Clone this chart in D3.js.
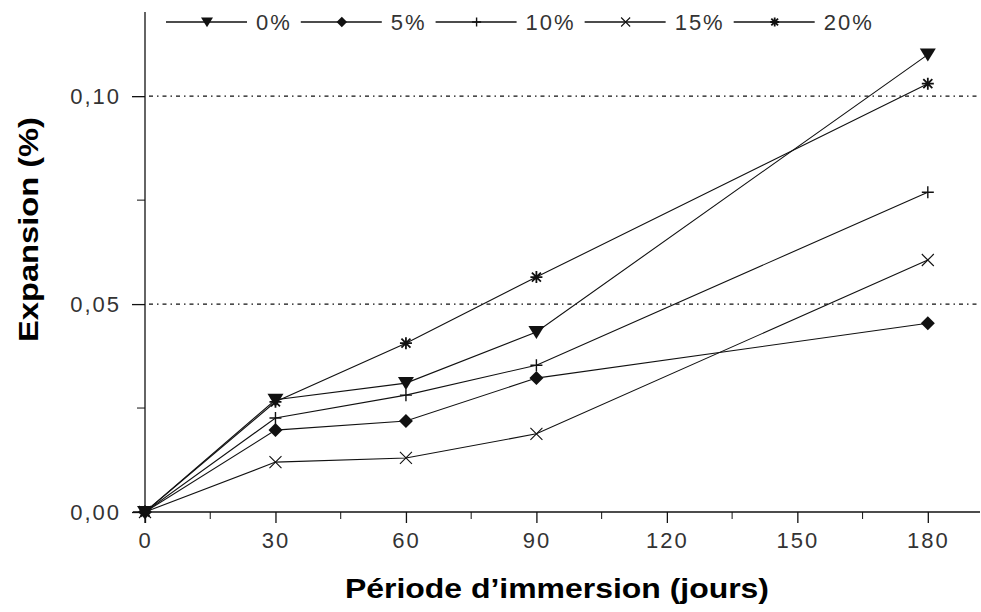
<!DOCTYPE html>
<html>
<head>
<meta charset="utf-8">
<script src="https://cdn.jsdelivr.net/npm/d3@7"></script>
<style>
  html, body { margin: 0; padding: 0; background: #fff; }
  svg { display: block; }
</style>
</head>
<body>
<script>
/**
 * DATA
 */
const days = [0, 30, 60, 90, 180];
const seriesNames = ["0%", "5%", "10%", "15%", "20%"];
const s0 = [0, 0.027, 0.031, 0.0433, 0.110];
const s5 = [0, 0.0197, 0.0219, 0.0322, 0.0454];
const s10 = [0, 0.0226, 0.0281, 0.0353, 0.0769];
const s15 = [0, 0.012, 0.013, 0.0188, 0.0606];
const s20 = [0, 0.0265, 0.0406, 0.0565, 0.103];
const xTicks = [0, 30, 60, 90, 120, 150, 180];
const yTicks = [0, 0.05, 0.1];
const gridValues = [0.05, 0.1];

/**
 * CONSTANTS
 */
const WIDTH = 981;
const HEIGHT = 612;
const INK = "#111";
const TICK_FONT = "'Liberation Sans', Arial, sans-serif";

const series = [s0, s5, s10, s15, s20].map((values, i) => ({
  name: seriesNames[i],
  marker: ["triangle", "diamond", "plus", "cross", "star"][i],
  points: days.map((d, j) => ({ day: d, value: values[j] })),
}));

const svg = d3
  .select("body")
  .append("svg")
  .attr("width", WIDTH)
  .attr("height", HEIGHT);

const x = d3.scaleLinear().domain([0, 192]).range([145, 980]);
const y = d3.scaleLinear().domain([0, 0.12]).range([512, 13]);

// marker shapes drawn around (0,0)
const drawMarker = (sel, type, k) => {
  if (type === "triangle") {
    sel.append("path")
      .attr("d", `M${-8 * k},${-6 * k}L${8 * k},${-6 * k}L0,${7 * k}Z`)
      .attr("fill", INK);
  } else if (type === "diamond") {
    sel.append("path")
      .attr("d", `M0,${-7 * k}L${7 * k},0L0,${7 * k}L${-7 * k},0Z`)
      .attr("fill", INK);
  } else if (type === "plus") {
    sel.append("path")
      .attr("d", `M${-6 * k},0H${6 * k}M0,${-6 * k}V${6 * k}`)
      .attr("stroke", INK).attr("stroke-width", 1.4);
  } else if (type === "cross") {
    sel.append("path")
      .attr("d", `M${-6 * k},${-6 * k}L${6 * k},${6 * k}M${-6 * k},${6 * k}L${6 * k},${-6 * k}`)
      .attr("stroke", INK).attr("stroke-width", 1.1);
  } else {
    const r = 6 * k, q = 4.5 * k;
    sel.append("path")
      .attr("d", `M${-r},0H${r}M0,${-r}V${r}M${-q},${-q}L${q},${q}M${-q},${q}L${q},${-q}`)
      .attr("stroke", INK).attr("stroke-width", 1.8);
  }
};

/**
 * GRID + AXES
 */
svg.append("g")
  .selectAll("line")
  .data(gridValues)
  .join("line")
  .attr("x1", x(0) + 4)
  .attr("x2", x.range()[1])
  .attr("y1", (d) => y(d))
  .attr("y2", (d) => y(d))
  .attr("stroke", INK)
  .attr("stroke-width", 1.3)
  .attr("stroke-dasharray", "4,4,1.5,4");

const fmt = (d) => d3.format(".2f")(d).replace(".", ",");

const yAxis = svg.append("g")
  .attr("transform", `translate(${x(0)},0)`)
  .call(d3.axisLeft(y).tickValues(yTicks).tickSize(13).tickPadding(11).tickFormat(fmt));
yAxis.append("g")
  .selectAll("line")
  .data([0.025, 0.075])
  .join("line")
  .attr("x1", -8).attr("x2", 0)
  .attr("y1", (d) => y(d)).attr("y2", (d) => y(d))
  .attr("stroke", INK);

const xAxis = svg.append("g")
  .attr("transform", `translate(0,${y(0)})`)
  .call(d3.axisBottom(x).tickValues(xTicks).tickSize(11).tickPadding(9).tickFormat(d3.format("d")));
xAxis.append("g")
  .selectAll("line")
  .data([15, 45, 75, 105, 135, 165])
  .join("line")
  .attr("x1", (d) => x(d)).attr("x2", (d) => x(d))
  .attr("y1", 0).attr("y2", 7)
  .attr("stroke", INK);

// axis lines run a little past the origin
yAxis.select(".domain").attr("d", `M0,12V${y(0) + 11}`);
xAxis.select(".domain").attr("d", `M${x(0) - 12},0H${x.range()[1]}`);

svg.selectAll(".tick line, .domain").attr("stroke", INK).attr("stroke-width", 1.3);
svg.selectAll(".tick text")
  .attr("font-family", TICK_FONT)
  .attr("font-size", 22)
  .attr("letter-spacing", 2)
  .attr("fill", "#333");
xAxis.selectAll(".tick text").attr("dy", "0.71em");

/**
 * SERIES
 */
const line = d3.line().x((d) => x(d.day)).y((d) => y(d.value));

const seriesG = svg.append("g")
  .selectAll("g")
  .data(series)
  .join("g");

seriesG.append("path")
  .attr("d", (d) => line(d.points))
  .attr("fill", "none")
  .attr("stroke", INK)
  .attr("stroke-width", 1.1);

seriesG.each(function (s) {
  d3.select(this)
    .selectAll("g.mark")
    .data(s.points)
    .join("g")
    .attr("class", "mark")
    .attr("transform", (d) => `translate(${x(d.day)},${y(d.value)})`)
    .each(function () {
      drawMarker(d3.select(this), s.marker, 1);
    });
});

/**
 * LEGEND
 */
const legend = svg.append("g").attr("transform", "translate(0,22)");
let cursor = 166;
series.forEach((s) => {
  const item = legend.append("g");
  item.append("line")
    .attr("x1", cursor).attr("x2", cursor + 81)
    .attr("stroke", INK).attr("stroke-width", 1.3);
  const m = item.append("g").attr("transform", `translate(${cursor + 41},0)`);
  drawMarker(m, s.marker, 0.75);
  const label = item.append("text")
    .attr("x", cursor + 90)
    .attr("y", 8)
    .attr("font-family", TICK_FONT)
    .attr("font-size", 22)
    .attr("letter-spacing", 2)
    .attr("fill", "#333")
    .text(s.name);
  cursor += 90 + label.node().getComputedTextLength() + 9;
});

/**
 * AXIS TITLES
 */
svg.append("text")
  .attr("x", 345)
  .attr("y", 598)
  .attr("font-family", "Arial, 'Liberation Sans', sans-serif")
  .attr("font-weight", "bold")
  .attr("font-size", 28)
  .attr("textLength", 424)
  .attr("lengthAdjust", "spacingAndGlyphs")
  .text("Période d’immersion (jours)");

svg.append("text")
  .attr("transform", "translate(38,342) rotate(-90)")
  .attr("font-family", "Arial, 'Liberation Sans', sans-serif")
  .attr("font-weight", "bold")
  .attr("font-size", 27)
  .attr("textLength", 225)
  .attr("lengthAdjust", "spacingAndGlyphs")
  .text("Expansion (%)");
</script>
</body>
</html>
